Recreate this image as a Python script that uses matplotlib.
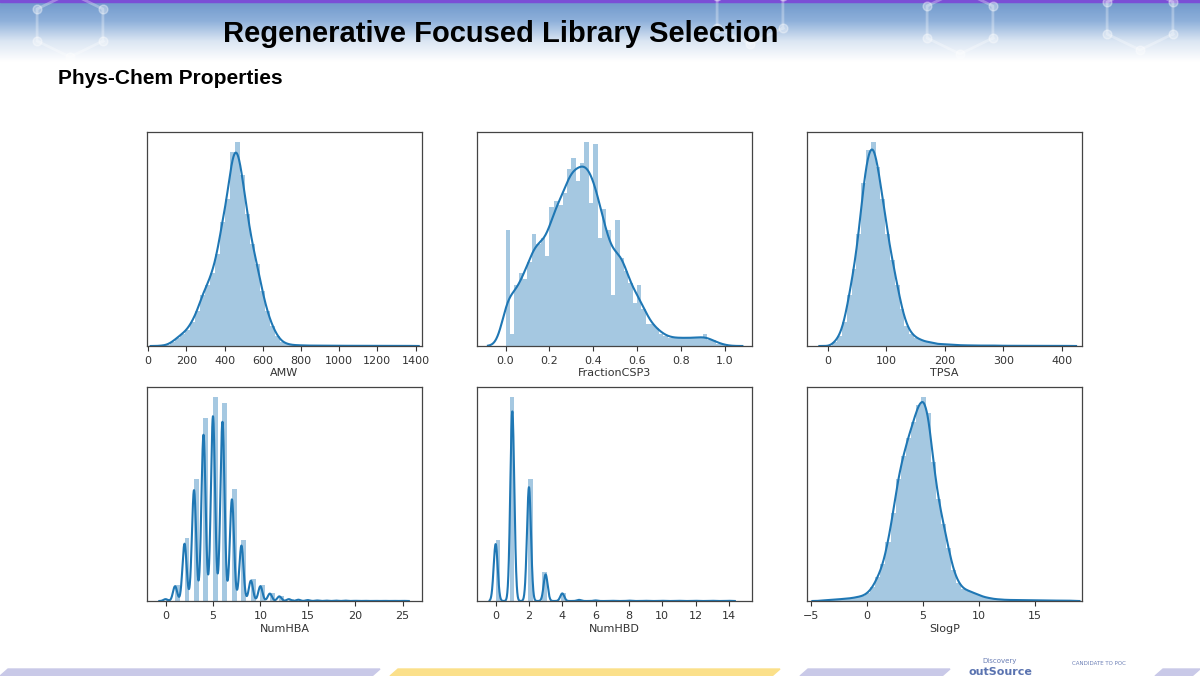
import numpy as np
import matplotlib
matplotlib.use("Agg")
import matplotlib.pyplot as plt
from matplotlib.patches import Rectangle, Polygon
from matplotlib.colors import LinearSegmentedColormap

# ---------------- data (relative histogram heights) ----------------
amw_start, amw_width = 60.0, 26.2
amw_heights = [0.002, 0.005, 0.02, 0.04, 0.06, 0.08, 0.12, 0.17, 0.25, 0.30, 0.36, 0.45, 0.61,
               0.72, 0.95, 1.0, 0.84, 0.65, 0.50, 0.40, 0.27, 0.17, 0.10, 0.05, 0.02, 0.01,
               0.005, 0.004, 0.003, 0.002, 0.002, 0.002, 0.002, 0.001, 0.001, 0.001, 0.001, 0.001,
               0.001, 0.001, 0.001, 0.001, 0.001, 0.001, 0.001, 0.001, 0.001, 0.001, 0.001, 0.001]

fsp3_start, fsp3_width = 0.0, 0.02
fsp3_heights = [0.57, 0.06, 0.30, 0.36, 0.33, 0.41, 0.55, 0.50, 0.53, 0.44, 0.68, 0.71, 0.69,
                0.75, 0.87, 0.92, 0.81, 0.90, 1.0, 0.70, 0.99, 0.53, 0.67, 0.57, 0.25, 0.62,
                0.43, 0.37, 0.31, 0.21, 0.30, 0.18, 0.11, 0.11, 0.09, 0.06, 0.05, 0.04, 0.04,
                0.04, 0.04, 0.04, 0.04, 0.04, 0.04, 0.06, 0.03, 0.03, 0.01, 0.01]

tpsa_start, tpsa_width = 0.0, 8.2
tpsa_heights = [0.0, 0.02, 0.05, 0.12, 0.25, 0.38, 0.55, 0.80, 0.96, 1.0, 0.88, 0.72, 0.55,
                0.42, 0.30, 0.18, 0.10, 0.06, 0.04, 0.03, 0.02, 0.02, 0.01, 0.01, 0.008, 0.006,
                0.005, 0.004, 0.003, 0.003, 0.003, 0.002, 0.002, 0.002, 0.002, 0.002, 0.001,
                0.001, 0.001, 0.001, 0.001, 0.001, 0.001, 0.001, 0.001, 0.001, 0.001, 0.001,
                0.001, 0.001]

hba_values = list(range(0, 26))
hba_counts = [0.01, 0.08, 0.31, 0.60, 0.90, 1.0, 0.97, 0.55, 0.30, 0.11, 0.08, 0.04, 0.025,
              0.01, 0.007, 0.005, 0.003, 0.002, 0.002, 0.002, 0.001, 0.001, 0.001, 0.001, 0.001, 0.001]

hbd_values = list(range(0, 15))
hbd_counts = [0.30, 1.0, 0.60, 0.14, 0.04, 0.006, 0.003, 0.001, 0.002, 0.001, 0.001, 0.001,
              0.001, 0.001, 0.001]

slogp_start, slogp_width = -4.2, 0.45
slogp_heights = [0.003, 0.004, 0.006, 0.008, 0.01, 0.012, 0.015, 0.02, 0.025, 0.04, 0.07, 0.12,
                 0.18, 0.29, 0.43, 0.60, 0.71, 0.80, 0.88, 0.96, 1.0, 0.92, 0.68, 0.50, 0.38,
                 0.26, 0.15, 0.09, 0.06, 0.05, 0.04, 0.03, 0.02, 0.015, 0.01, 0.008, 0.006,
                 0.005, 0.005, 0.004, 0.004, 0.003, 0.003, 0.003, 0.002, 0.002, 0.002, 0.002,
                 0.002, 0.002]

title = "Regenerative Focused Library Selection"
subtitle = "Phys-Chem Properties"

C = "#1f77b4"

# ---------------- figure ----------------
fig = plt.figure(figsize=(12, 6.76), dpi=100)
bg = fig.add_axes([0, 0, 1, 1], zorder=-10)
bg.set_xlim(0, 1200); bg.set_ylim(676, 0); bg.axis("off")
grad = np.linspace(0, 1, 100)[:, None]
cm = LinearSegmentedColormap.from_list("b", ["#6e97cb", "#8eb0da", "#dbe6f3", "#ffffff"])
bg.imshow(grad, cmap=cm, extent=[0, 1200, 62, 0], aspect="auto")
bg.add_patch(Rectangle((0, 0), 1200, 2, color="#7b4fd6"))
for cx, cy in [(70, 25), (1140, 18), (960, 22), (750, 12)]:
    ang = np.linspace(0, 2 * np.pi, 7) + np.pi / 6
    xs, ys = cx + 38 * np.cos(ang), cy + 32 * np.sin(ang)
    bg.plot(xs, ys, color="white", alpha=0.3, lw=2)
    bg.scatter(xs[:-1], ys[:-1], s=40, color="white", alpha=0.35)
for x0, x1, col in [(0, 380, "#c9c9e8"), (390, 780, "#fbe08a"), (800, 950, "#c9c9e8"), (1155, 1200, "#c9c9e8")]:
    bg.add_patch(Polygon([[x0, 676], [x0 + 8, 669], [x1, 669], [x1 - 8, 676]], color=col))
bg.text(1000, 664, "Discovery", fontsize=5, color="#6b7fb5", ha="center", va="bottom")
bg.text(1000, 677, "outSource", fontsize=8, color="#5a73b0", ha="center", va="bottom", fontweight="bold")
bg.text(1072, 666, "CANDIDATE TO POC", fontsize=4, color="#6b7fb5", va="bottom")

fig.text(0.4175, 1 - 34 / 676, title, fontsize=21, fontweight="bold", family="Liberation Sans",
         ha="center", va="center", color="black")
fig.text(58 / 1200, 1 - 78 / 676, subtitle, fontsize=15, fontweight="bold", family="Liberation Sans",
         ha="left", va="center", color="black")


def edges_from(start, width, heights):
    return start + width * np.arange(len(heights) + 1)


def kde(xgrid, pts, w, bw):
    w = np.asarray(w, float); w = w / w.sum()
    d = (xgrid[:, None] - pts[None, :]) / bw
    return (np.exp(-0.5 * d ** 2) * w[None, :]).sum(1) / (bw * np.sqrt(2 * np.pi))


def panel(rect, label, xlim, edges, heights_or_pts, weights, bw, xticks, discrete=False):
    ax = fig.add_axes(rect)
    if discrete:
        pts = np.asarray(heights_or_pts, float)
        ax.hist(pts, bins=edges, weights=weights, density=True, color=C, alpha=0.4)
        hvals, _ = np.histogram(pts, bins=edges, weights=weights, density=True)
    else:
        h = np.asarray(heights_or_pts, float)
        w = np.diff(edges)
        hvals = h / (h * w).sum()
        ax.bar(edges[:-1], hvals, width=w, align="edge", color=C, alpha=0.4, linewidth=0)
        pts = 0.5 * (edges[:-1] + edges[1:])
        weights = h
    lo = pts.min() - 3 * bw; hi = pts.max() + 3 * bw
    xg = np.linspace(lo, hi, 1500)
    yk = kde(xg, pts, weights, bw)
    ax.plot(xg, yk, color=C, lw=1.5)
    ax.set_xlim(*xlim)
    ax.set_ylim(0, 1.05 * max(hvals.max(), yk.max()))
    ax.set_yticks([])
    ax.set_xticks(xticks)
    ax.tick_params(axis="x", labelsize=8, colors="#333333", length=3.5)
    ax.set_xlabel(label, fontsize=8, color="#333333", labelpad=2)
    for s in ax.spines.values():
        s.set_color("#444444"); s.set_linewidth(0.9)
    return ax


W = 275 / 1200; H = 214 / 676
x1, x2, x3 = 147 / 1200, 477 / 1200, 807 / 1200
y1, y2 = 1 - 346 / 676, 1 - 601 / 676

panel([x1, y1, W, H], "AMW", (-6, 1434), edges_from(amw_start, amw_width, amw_heights),
      amw_heights, None, 20, [0, 200, 400, 600, 800, 1000, 1200, 1400])
panel([x2, y1, W, H], "FractionCSP3", (-0.13, 1.124), edges_from(fsp3_start, fsp3_width, fsp3_heights),
      fsp3_heights, None, 0.03, [0.0, 0.2, 0.4, 0.6, 0.8, 1.0])
panel([x3, y1, W, H], "TPSA", (-35, 434), edges_from(tpsa_start, tpsa_width, tpsa_heights),
      tpsa_heights, None, 6, [0, 100, 200, 300, 400])
panel([x1, y2, W, H], "NumHBA", (-1.96, 27.05), np.linspace(0, 25, 51),
      hba_values, hba_counts, 0.22, [0, 5, 10, 15, 20, 25], discrete=True)
panel([x2, y2, W, H], "NumHBD", (-1.12, 15.39), np.linspace(0, 14, 51),
      hbd_values, hbd_counts, 0.12, [0, 2, 4, 6, 8, 10, 12, 14], discrete=True)
panel([x3, y2, W, H], "SlogP", (-5.36, 19.2), edges_from(slogp_start, slogp_width, slogp_heights),
      slogp_heights, None, 0.3, [-5, 0, 5, 10, 15])

fig.savefig("out.png", dpi=100)
